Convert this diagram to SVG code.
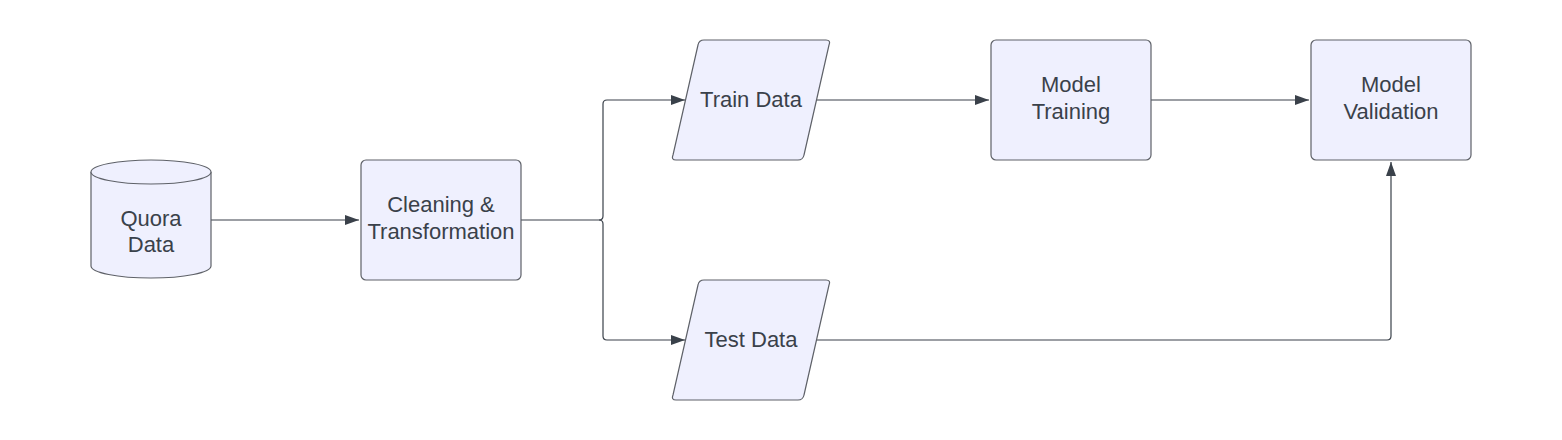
<svg xmlns="http://www.w3.org/2000/svg" width="1562" height="440" viewBox="0 0 1562 440">
<style>
.shape{fill:#eff0fe;stroke:#5e6168;stroke-width:1.2}
.conn{fill:none;stroke:#3a414a;stroke-width:1.2}
text{font-family:"Liberation Sans",Arial,sans-serif;font-size:22px;fill:#3a414a;text-anchor:middle}
</style>
<defs>
<marker id="arr" viewBox="0 0 14 10" refX="14" refY="5" markerWidth="14" markerHeight="10" markerUnits="userSpaceOnUse" orient="auto">
<path d="M0,0 L14,5 L0,10 Z" fill="#3a414a"/>
</marker>
</defs>
<rect width="1562" height="440" fill="#ffffff"/>
<g id="connectors">
<path class="conn" d="M211,220 H359" marker-end="url(#arr)"/>
<path class="conn" d="M521,220 H599 Q603,220 603,216 V104 Q603,100 607,100 H685" marker-end="url(#arr)"/>
<path class="conn" d="M599,220 Q603,220 603,224 V336 Q603,340 607,340 H685" marker-end="url(#arr)"/>
<path class="conn" d="M815,100 H989" marker-end="url(#arr)"/>
<path class="conn" d="M1151,100 H1309" marker-end="url(#arr)"/>
<path class="conn" d="M815,340 H1387 Q1391,340 1391,336 V162" marker-end="url(#arr)"/>
</g>
<g id="quora-data">
<path class="shape" d="M91,172 A60,12 0 0 1 211,172 V266 A60,12 0 0 1 91,266 Z"/>
<path class="shape" d="M91,172 A60,12 0 0 0 211,172" fill="none"/>
<text x="151" y="226">Quora</text>
<text x="151" y="252">Data</text>
</g>
<g id="cleaning">
<rect class="shape" x="361" y="160" width="160" height="120" rx="5"/>
<text x="441" y="212">Cleaning &amp;</text>
<text x="441" y="239">Transformation</text>
</g>
<g id="train-data">
<path class="shape" d="M704,40 H826 Q831,40 829,45 L804,155 Q803,160 798,160 H676 Q671,160 673,155 L698,45 Q699,40 704,40 Z"/>
<text x="751" y="107">Train Data</text>
</g>
<g id="test-data">
<path class="shape" d="M704,280 H826 Q831,280 829,285 L804,395 Q803,400 798,400 H676 Q671,400 673,395 L698,285 Q699,280 704,280 Z"/>
<text x="751" y="347">Test Data</text>
</g>
<g id="model-training">
<rect class="shape" x="991" y="40" width="160" height="120" rx="5"/>
<text x="1071" y="92">Model</text>
<text x="1071" y="119">Training</text>
</g>
<g id="model-validation">
<rect class="shape" x="1311" y="40" width="160" height="120" rx="5"/>
<text x="1391" y="92">Model</text>
<text x="1391" y="119">Validation</text>
</g>
</svg>
